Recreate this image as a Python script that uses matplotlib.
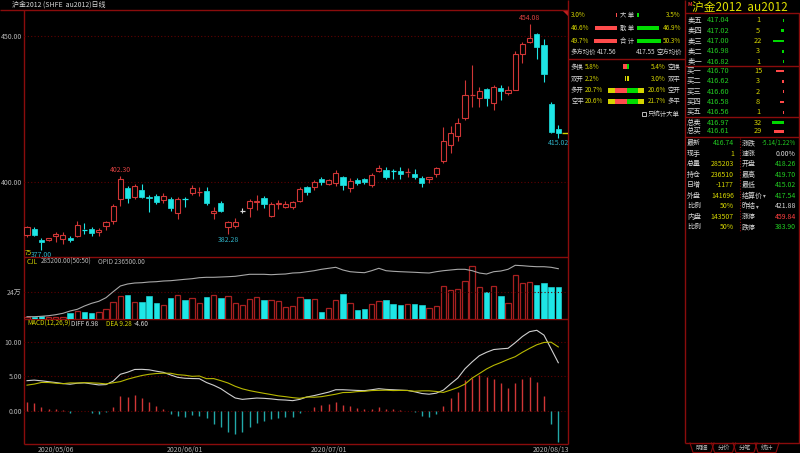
import matplotlib
matplotlib.use('Agg')
import matplotlib.pyplot as plt
from matplotlib.patches import Rectangle, Polygon
import numpy as np

plt.rcParams['font.family'] = ['Noto Sans CJK SC', 'DejaVu Sans']

# ── au2012 daily bars ──────────────────────────────────────────────────────
opens = [382.1, 384.0, 380.4, 380.3, 381.6, 380.7, 381.2, 381.7, 384.0, 384.2,
         383.2, 385.0, 386.7, 394.2, 398.0, 395.1, 397.4, 395.2, 395.3, 394.0,
         394.3, 389.5, 394.5, 396.3, 396.7, 397.1, 389.5, 392.9, 384.9, 385.2,
         390.3, 391.2, 393.2, 394.8, 388.6, 392.5, 391.5, 391.7, 393.7, 398.5,
         398.3, 401.0, 399.3, 399.9, 401.8, 398.0, 400.8, 401.0, 399.1, 403.9,
         404.4, 403.9, 403.9, 403.3, 403.0, 401.6, 401.0, 402.8, 407.3, 412.7,
         415.7, 422.1, 429.6, 428.6, 431.8, 426.9, 432.3, 430.5, 431.6, 443.9,
         447.8, 450.7, 446.7, 426.8, 418.26]
highs = [385.0, 384.7, 381.0, 381.2, 383.1, 383.0, 381.7, 386.9, 386.1, 384.9,
         384.6, 386.9, 392.8, 402.3, 398.7, 399.5, 399.4, 395.6, 396.1, 396.4,
         395.0, 395.1, 395.0, 399.0, 398.3, 398.3, 391.5, 393.6, 386.9, 387.9,
         391.2, 394.2, 395.7, 395.3, 393.4, 393.9, 393.6, 393.7, 398.6, 398.8,
         400.8, 401.9, 401.0, 404.1, 402.2, 401.5, 401.4, 401.6, 403.1, 406.1,
         405.2, 404.6, 405.2, 404.9, 404.5, 402.3, 402.0, 405.4, 418.9, 419.1,
         421.8, 434.8, 439.9, 432.5, 432.2, 433.1, 433.1, 432.8, 444.6, 447.8,
         454.08, 451.0, 449.0, 427.3, 419.70]
lows = [381.3, 381.9, 377.0, 380.0, 379.8, 378.9, 379.8, 381.3, 382.4, 381.7,
        381.7, 383.8, 385.8, 391.9, 392.9, 394.4, 394.6, 390.0, 392.6, 392.9,
        390.4, 387.5, 391.7, 395.6, 395.3, 392.3, 387.5, 389.9, 382.28, 384.5,
        389.5, 388.3, 390.5, 391.3, 388.3, 390.9, 391.3, 390.9, 393.3, 395.8,
        397.5, 399.0, 399.1, 398.8, 397.5, 396.9, 399.1, 399.4, 398.6, 403.7,
        401.0, 401.3, 401.3, 401.8, 401.3, 398.3, 399.9, 401.8, 406.5, 409.9,
        414.0, 421.2, 425.7, 425.7, 426.2, 424.8, 428.0, 429.9, 431.6, 440.7,
        447.5, 442.2, 434.2, 416.9, 415.02]
closes = [384.9, 382.1, 379.6, 381.0, 382.4, 382.1, 380.4, 385.5, 383.9, 382.9,
          383.8, 386.4, 391.9, 401.0, 394.6, 398.7, 395.1, 394.6, 393.4, 395.3,
          391.2, 394.2, 394.3, 398.0, 397.0, 392.9, 390.2, 390.2, 386.4, 386.4,
          390.3, 393.6, 393.6, 392.5, 392.5, 393.1, 392.5, 393.2, 397.6, 396.8,
          400.0, 400.1, 400.8, 403.3, 399.1, 400.5, 399.7, 400.2, 402.5, 405.0,
          401.7, 403.8, 402.8, 403.6, 401.9, 399.7, 401.7, 404.8, 414.1, 416.7,
          420.4, 429.9, 429.8, 431.2, 428.9, 432.5, 431.2, 431.6, 443.9, 447.3,
          449.2, 446.1, 436.8, 417.2, 416.74]

# volume and open interest, 万手
volume = [2.4, 1.8, 3.3, 2.4, 2.4, 2.4, 5.3, 7.3, 6.8, 5.9,
          6.4, 9.4, 14.9, 20.8, 21.7, 15.6, 15.6, 20.8, 14.7, 12.3,
          18.5, 21.7, 17.0, 18.5, 14.1, 20.0, 21.7, 18.5, 20.8, 14.7,
          12.3, 17.6, 19.3, 17.3, 17.3, 16.4, 11.2, 12.0, 19.3, 17.8,
          17.8, 6.4, 10.3, 16.7, 22.0, 14.7, 8.2, 9.4, 13.8, 16.4,
          17.0, 13.8, 12.9, 13.2, 13.8, 12.9, 9.7, 12.0, 29.3, 25.5,
          26.4, 34.0, 46.9, 28.7, 24.3, 29.3, 20.8, 14.7, 38.9, 31.6,
          32.5, 29.9, 31.6, 28.4, 28.52]
oi = [14.05, 14.05, 14.13, 14.25, 14.45, 14.73, 15.19, 15.53, 16.19, 16.73,
      17.13, 17.85, 19.05, 20.19, 20.59, 20.79, 20.85, 20.99, 21.05, 21.19,
      21.25, 21.39, 21.53, 21.65, 21.85, 21.93, 21.93, 21.99, 22.05, 22.13,
      22.33, 22.53, 22.53, 22.53, 22.45, 22.53, 22.59, 22.79, 22.85, 23.05,
      23.25, 23.53, 23.73, 23.93, 23.39, 23.05, 22.93, 22.85, 23.25, 23.73,
      23.25, 23.13, 23.05, 22.99, 22.93, 22.85, 22.79, 23.05, 23.25, 23.39,
      23.53, 23.53, 23.25, 22.79, 22.59, 23.05, 23.19, 23.53, 24.33, 24.25,
      24.13, 24.05, 24.05, 23.93, 23.65]

diff = [4.37, 4.45, 4.35, 4.22, 4.10, 3.95, 3.85, 4.00, 4.05, 3.90,
        3.75, 3.80, 4.30, 5.30, 5.60, 6.00, 6.02, 5.95, 5.75, 5.58,
        5.20, 4.85, 4.72, 4.68, 4.66, 4.10, 3.70, 3.20, 2.50, 1.85,
        1.65, 1.75, 1.84, 1.80, 1.72, 1.60, 1.55, 1.46, 1.65, 2.00,
        2.20, 2.45, 2.70, 3.05, 3.05, 3.00, 2.95, 2.92, 3.05, 3.20,
        3.10, 3.05, 3.00, 2.95, 2.75, 2.50, 2.40, 2.55, 3.00, 3.90,
        4.75, 6.10, 7.10, 8.00, 8.50, 8.90, 9.00, 9.08, 9.90, 10.80,
        11.50, 11.70, 11.00, 9.00, 6.98]
dea = [3.72, 3.87, 4.11, 4.10, 4.00, 3.93, 4.04, 4.03, 4.08, 4.05,
       4.00, 3.90, 4.06, 4.23, 4.58, 4.86, 5.12, 5.30, 5.41, 5.46,
       5.45, 5.24, 5.16, 5.00, 5.05, 4.66, 4.67, 4.37, 4.03, 3.55,
       3.18, 2.92, 2.72, 2.53, 2.35, 2.16, 2.04, 1.90, 1.80, 1.99,
       1.96, 2.04, 2.22, 2.40, 2.64, 2.66, 2.78, 2.82, 2.93, 2.96,
       2.98, 2.93, 2.95, 2.94, 2.83, 2.89, 2.89, 2.80, 2.66, 3.00,
       3.37, 3.87, 4.75, 5.40, 6.07, 6.60, 7.01, 7.46, 7.86, 8.50,
       9.07, 9.59, 9.93, 9.97, 9.28]
macd = [1.31, 1.16, 0.49, 0.25, 0.20, 0.05, -0.38, -0.05, -0.05, -0.30,
        -0.50, -0.20, 0.49, 2.14, 2.04, 2.28, 1.80, 1.31, 0.68, 0.25,
        -0.50, -0.78, -0.87, -0.63, -0.78, -1.12, -1.94, -2.33, -3.06, -3.40,
        -3.06, -2.33, -1.75, -1.46, -1.26, -1.12, -0.97, -0.87, -0.30, 0.02,
        0.49, 0.83, 0.97, 1.31, 0.83, 0.68, 0.34, 0.20, 0.25, 0.49,
        0.25, 0.25, 0.10, 0.02, -0.15, -0.78, -0.97, -0.50, 0.68, 1.80,
        2.77, 4.47, 4.71, 5.20, 4.86, 4.61, 3.98, 3.25, 4.08, 4.61,
        4.86, 4.22, 2.14, -1.94, -4.60]

date_pos = [4, 22, 42, 73]
date_labels = ['2020/05/06', '2020/06/01', '2020/07/01', '2020/08/13']
hi_marks = [13, 70]
lo_marks = [2, 28, 74]

# ── order book / quote panel ───────────────────────────────────────────────
ask_names = ['卖五', '卖四', '卖三', '卖二', '卖一']
ask_px = [417.04, 417.02, 417.00, 416.98, 416.82]
ask_vol = [1, 5, 22, 3, 1]
bid_names = ['买一', '买二', '买三', '买四', '买五']
bid_px = [416.70, 416.62, 416.60, 416.58, 416.56]
bid_vol = [15, 3, 2, 8, 1]
tot_names = ['总卖', '总买']
tot_px = [416.97, 416.61]
tot_vol = [32, 29]

quote_l_names = ['最新', '现手', '总量', '持仓', '日增', '外盘', '比例', '内盘', '比例']
quote_l_vals = ['416.74', '1', '285203', '236510', '-1177', '141696', '50%', '143507', '50%']
quote_r_names = ['涨跌', '速涨', '开盘', '最高', '最低', '结算价', '昨结', '涨停', '跌停']
quote_r_vals = ['-5.14/1.22%', '0.00%', '418.26', '419.70', '415.02', '417.54',
                '421.88', '459.84', '383.90']

big_names = ['大 单', '散 单', '合 计']
big_buy = [3.0, 46.6, 49.7]
big_sell = [3.5, 46.9, 50.3]
avg_long, avg_short = 417.56, 417.55
flow_l_names = ['多换', '双开', '多开', '空平']
flow_l = [5.8, 2.2, 20.7, 20.6]
flow_r = [5.4, 3.0, 20.6, 21.7]
flow_r_names = ['空换', '双平', '空开', '多平']
flow_cap_l = [0, 0, 13, 14]
flow_cap_r = [0, 0, 12, 11]

# ── colours ────────────────────────────────────────────────────────────────
W, H = 800, 453
FRAME = '#8a0c0c'
GRID = '#5e0000'
UP = '#d03636'
UPV = '#a82020'
DOWN = '#1ee6e6'
TXT = '#b4b4b4'
WHT = '#d8d8d8'
YEL = '#d4d400'
GRN = '#22cc22'
RED_T = '#d84040'
CYAN_T = '#2fb0c4'

fig = plt.figure(figsize=(W / 100, H / 100), dpi=100, facecolor='black')
ov = fig.add_axes([0, 0, 1, 1])
ov.set_xlim(0, W)
ov.set_ylim(H, 0)
ov.axis('off')


def px_axes(x0, y0, x1, y1):
    a = fig.add_axes([x0 / W, 1 - y1 / H, (x1 - x0) / W, (y1 - y0) / H])
    a.set_facecolor('none')
    for s in a.spines.values():
        s.set_visible(False)
    a.set_xticks([])
    a.set_yticks([])
    return a


def t(x, y, s, color=TXT, size=5, ha='left', **kw):
    ov.text(x, y, s, color=color, fontsize=size, ha=ha, va='center', **kw)


idx = np.arange(len(closes))
o = np.array(opens); c = np.array(closes)
hi = np.array(highs); lo = np.array(lows)
XL = (-0.42, 75.35)

# ── price panel ────────────────────────────────────────────────────────────
ax_p = px_axes(24, 9.5, 568, 257)
ax_p.set_xlim(*XL)
ax_p.set_ylim(374.6, 458.9)
ax_p.set_yticks([400, 450])
ax_p.set_yticklabels(['400.00', '450.00'])
ax_p.tick_params(axis='y', length=0, pad=1.5, labelsize=5, labelcolor=TXT)
ax_p.yaxis.grid(True, color=GRID, linestyle=(0, (1, 2)), linewidth=0.8)
ax_p.set_axisbelow(True)

top = np.maximum(o, c)
bot = np.minimum(o, c)
bw = 0.72
for i in idx:
    col = UP if c[i] > o[i] else (DOWN if c[i] < o[i] else WHT)
    ax_p.vlines(i, lo[i], bot[i], color=col, linewidth=0.8)
    ax_p.vlines(i, top[i], hi[i], color=col, linewidth=0.8)
    if top[i] - bot[i] < 0.35:
        ax_p.hlines((top[i] + bot[i]) / 2, i - bw / 2, i + bw / 2, color=col, linewidth=0.9)
    elif c[i] > o[i]:
        ax_p.bar(i, top[i] - bot[i], bottom=bot[i], width=bw, facecolor='black',
                 edgecolor=UP, linewidth=0.8)
    else:
        ax_p.bar(i, top[i] - bot[i], bottom=bot[i], width=bw, facecolor=DOWN,
                 edgecolor=DOWN, linewidth=0.5)

for i in hi_marks:
    ax_p.annotate(f'{highs[i]:.2f}', (i, highs[i]), xytext=(0, 1.2),
                  textcoords='offset points', ha='center', va='bottom',
                  color=RED_T, fontsize=5)
for i in lo_marks:
    ax_p.annotate(f'{lows[i]:.2f}', (i, lows[i]), xytext=(0, -0.8),
                  textcoords='offset points', ha='center', va='top',
                  color=CYAN_T, fontsize=5)
ax_p.hlines(closes[-1], 74.5, XL[1], color=YEL, linewidth=1)

# ── volume + open interest ────────────────────────────────────────────────
ax_v = px_axes(24, 257, 568, 319.3)
ax_v.set_xlim(*XL)
ax_v.set_ylim(0, 54.8)
ax_v.set_yticks([24])
ax_v.set_yticklabels(['24万'])
ax_v.tick_params(axis='y', length=0, pad=1.5, labelsize=5, labelcolor=TXT)
ax_v.yaxis.grid(True, color=GRID, linestyle=(0, (1, 2)), linewidth=0.8)
vol = np.array(volume)
up_mask = c >= o
ax_v.bar(idx[up_mask], vol[up_mask], width=0.75, facecolor='black',
         edgecolor=UPV, linewidth=0.9)
ax_v.bar(idx[~up_mask], vol[~up_mask], width=0.75, facecolor=DOWN,
         edgecolor=DOWN, linewidth=0.4)
ax_oi = ax_v.twinx()
ax_oi.set_facecolor('none')
for s in ax_oi.spines.values():
    s.set_visible(False)
ax_oi.set_yticks([])
ax_oi.set_ylim(13.53, 25.99)
ax_oi.plot(idx, oi, color='#a8a8a8', linewidth=0.8)

# ── MACD ─────────────────────────────────────────────────────────────────
ax_m = px_axes(24, 319.3, 568, 444.3)
ax_m.set_xlim(*XL)
ax_m.set_ylim(-4.89, 13.3)
ax_m.set_yticks([0, 5, 10])
ax_m.set_yticklabels(['0.00', '5.00', '10.00'])
ax_m.tick_params(axis='y', length=0, pad=1.5, labelsize=5, labelcolor=TXT)
ax_m.yaxis.grid(True, color=GRID, linestyle=(0, (1, 2)), linewidth=0.8)
ax_m.set_xticks(date_pos)
ax_m.set_xticklabels(date_labels)
ax_m.tick_params(axis='x', length=0, pad=1.2, labelsize=5, labelcolor=TXT)
mc = np.array(macd)
ax_m.vlines(idx, 0, mc, colors=np.where(mc >= 0, UP, '#22a8a8'), linewidth=1.0)
ax_m.plot(idx, diff, color='#d0d0d0', linewidth=0.8)
ax_m.plot(idx, dea, color='#b8b800', linewidth=0.8)

# ── frame lines ───────────────────────────────────────────────────────────
ov.hlines(9.5, 0, 568, color=FRAME, linewidth=1)
ov.vlines(24, 9.5, 444.3, color=FRAME, linewidth=1)
ov.hlines([257, 319.3, 444.3], 24, 568, color=FRAME, linewidth=1)
ov.vlines(568, 0, 444.3, color=FRAME, linewidth=1)
ov.hlines(59, 568, 684.5, color=FRAME, linewidth=1)
ov.vlines(684.5, 0, 443, color=FRAME, linewidth=1)
ov.hlines([13.3, 66.3, 116.7, 136.7, 443], 684.5, 800, color=FRAME, linewidth=1)
ov.vlines(799.3, 13.3, 443, color=FRAME, linewidth=1)
ov.vlines(740, 138, 232, color=FRAME, linewidth=0.8, linestyle=(0, (1, 1.5)))
ov.add_patch(Polygon([(562, 10), (568, 10), (568, 16)], closed=True,
                     facecolor='#c02020', edgecolor='none'))

# ── header texts ─────────────────────────────────────────────────────────
HS = 4.6
t(12, 4.6, '沪金2012 (SHFE  au2012)日线', WHT, 5)
t(25, 253, '75', YEL, HS)
t(27, 262, 'CJL', YEL, HS)
t(41, 262, f'{volume[-1] * 10000:.2f}(50:50)', TXT, HS)
t(98, 262, f'OPID {oi[-1] * 10000:.2f}', TXT, HS)
t(27, 324, 'MACD(12,26,9)', YEL, HS)
t(71, 324, f'DIFF {diff[-1]:.2f}', WHT, HS)
t(106, 324, f'DEA {dea[-1]:.2f}', YEL, HS)
t(134, 324, f'{macd[-1]:.2f}', WHT, HS)

# ── big-order stats ───────────────────────────────────────────────────────
big_y = [15, 28, 41]
for y, n, b, s in zip(big_y, big_names, big_buy, big_sell):
    t(571, y, f'{b:.1f}%', YEL, HS)
    t(627, y, n, WHT, HS, ha='center')
    t(681, y, f'{s:.1f}%', YEL, HS, ha='right')
ax_bl = px_axes(590, 8, 617, 48)
ax_bl.set_xlim(-27 / 0.47, 0)
ax_bl.set_ylim(48, 8)
ax_bl.barh(big_y, [-v for v in big_buy], height=4, color='#ff4c4c')
ax_br = px_axes(637, 8, 664, 48)
ax_br.set_xlim(0, 27 / 0.47)
ax_br.set_ylim(48, 8)
ax_br.barh(big_y, big_sell, height=4, color='#00dd00')
t(571, 52, '多方均价', WHT, HS)
t(597, 52, f'{avg_long:.2f}', WHT, HS)
t(636, 52, f'{avg_short:.2f}', WHT, HS)
t(682, 52, '空方均价', WHT, HS, ha='right')

flow_y = [66.7, 78.7, 90, 101]
for y, ln, lv, rv, rn in zip(flow_y, flow_l_names, flow_l, flow_r, flow_r_names):
    t(571, y, ln, WHT, HS)
    t(585, y, f'{lv:.1f}%', YEL, HS)
    t(666, y, f'{rv:.1f}%', YEL, HS, ha='right')
    t(667.5, y, rn, WHT, HS)
ax_f = px_axes(598, 60, 655, 108)
ax_f.set_xlim(-28.5 / 0.54, 28.5 / 0.54)
ax_f.set_ylim(108, 60)
inner_l = ['#ff4c4c', YEL, '#ff4c4c', '#ff4c4c']
inner_r = ['#00dd00', YEL, '#00dd00', '#00dd00']
for k, y in enumerate(flow_y):
    gap = 0.8 if k == 1 else 0
    ax_f.barh(y, -flow_l[k], left=-gap, height=5, color=inner_l[k])
    ax_f.barh(y, flow_r[k], left=gap, height=5, color=inner_r[k])
    if flow_cap_l[k]:
        ax_f.barh(y, -flow_cap_l[k], left=-flow_l[k], height=5, color=YEL)
        ax_f.barh(y, flow_cap_r[k], left=flow_r[k], height=5, color=YEL)
ov.add_patch(Rectangle((642, 112), 4, 4, facecolor='none', edgecolor=WHT, linewidth=0.6))
t(647.5, 114, '只统计大单', WHT, HS)

# ── order book ───────────────────────────────────────────────────────────
ov.text(688, 4.2, 'M', color='#e03030', fontsize=3.8, fontweight='bold', va='center')
t(692, 7.2, '沪金2012  au2012', '#e0e000', 8.5)
BS = 5.3
ask_y = [20.3, 30.6, 41, 51.3, 61.6]
bid_y = [71, 81.3, 91.6, 101.9, 112.2]
tot_y = [122.7, 131.4]
for ys, names, pxs, vols in [(ask_y, ask_names, ask_px, ask_vol),
                             (bid_y, bid_names, bid_px, bid_vol),
                             (tot_y, tot_names, tot_px, tot_vol)]:
    for y, n, p, v in zip(ys, names, pxs, vols):
        t(687, y, n, WHT, BS)
        t(707, y, f'{p:.2f}', GRN, BS)
        t(758, y, str(v), YEL, BS, ha='center')
ax_b = px_axes(770, 14, 784, 118)
ax_b.set_xlim(-14 / 0.515, 0)
ax_b.set_ylim(118, 14)
ax_b.barh(ask_y, [-v for v in ask_vol], height=2.8, color='#00d800')
ax_b.barh(bid_y, [-v for v in bid_vol], height=2.8, color='#ff4848')
ax_t = px_axes(770, 118, 784, 136)
ax_t.set_xlim(-14 / 0.36, 0)
ax_t.set_ylim(136, 118)
ax_t.barh(tot_y, [-v for v in tot_vol], height=2.8, color=['#00d800', '#ff4848'])

QS = 5.0
quote_y = [143.3, 153.8, 164.3, 174.8, 185.3, 195.8, 206.3, 216.8, 227.3]
r_colors = [GRN, WHT, GRN, GRN, GRN, GRN, WHT, '#ff4040', GRN]
for k, y in enumerate(quote_y):
    t(687, y, quote_l_names[k], WHT, QS)
    t(734, y, quote_l_vals[k], GRN if k == 0 else YEL, QS, ha='right')
    t(742, y, quote_r_names[k], WHT, QS)
    t(796, y, quote_r_vals[k], r_colors[k], 4.4 if k == 0 else QS, ha='right')
t(763, quote_y[5], '▾', TXT, 4)
t(756, quote_y[6], '▾', TXT, 4)

# bottom tabs
for cx, name in zip([702, 723.5, 745, 767], ['明细', '分价', '分笔', '统计']):
    ov.plot([cx - 12, cx - 9, cx + 9, cx + 12], [443, 452.5, 452.5, 443],
            color=FRAME, linewidth=0.8)
    t(cx, 448, name, TXT, 4.5, ha='center')

fig.savefig('out.png', dpi=100, facecolor='black')
